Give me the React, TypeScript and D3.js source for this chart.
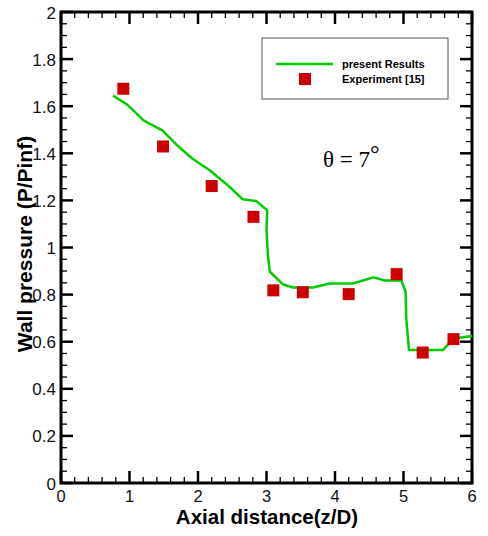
import * as d3 from "d3";
import { useEffect, useRef } from "react";

// present Results (CFD line)
const simX = [0.76, 0.97, 1.21, 1.48, 1.7, 1.92, 2.17, 2.46, 2.65, 2.85, 3.01, 3.0, 3.02, 3.05, 3.24, 3.39, 3.68, 3.92, 4.26, 4.56, 4.73, 4.97, 5.03, 5.04, 5.08, 5.58, 5.73, 6.0];
const simY = [1.645, 1.606, 1.539, 1.497, 1.433, 1.377, 1.328, 1.258, 1.205, 1.197, 1.158, 1.07, 0.967, 0.897, 0.843, 0.83, 0.83, 0.847, 0.847, 0.873, 0.86, 0.86, 0.812, 0.7, 0.565, 0.565, 0.614, 0.624];

// Experiment [15]
const expX = [0.91, 1.49, 2.2, 2.81, 3.1, 3.53, 4.2, 4.9, 5.28, 5.73];
const expY = [1.674, 1.429, 1.261, 1.13, 0.818, 0.81, 0.802, 0.887, 0.554, 0.611];

const xTicks = [0, 1, 2, 3, 4, 5, 6];
const yTicks = [0, 0.2, 0.4, 0.6, 0.8, 1, 1.2, 1.4, 1.6, 1.8, 2];

export default function App() {
  const svgRef = useRef<SVGSVGElement | null>(null);

  useEffect(() => {
    if (!svgRef.current) return;
    const svg = d3.select(svgRef.current);
    svg.selectAll("*").remove();

    const width = 488;
    const height = 536;
    const margin = { top: 12, right: 16, bottom: 53, left: 61 };
    const x0 = margin.left;
    const x1 = width - margin.right;
    const y0 = height - margin.bottom;
    const y1 = margin.top;

    const x = d3.scaleLinear().domain([0, 6]).range([x0, x1]);
    const y = d3.scaleLinear().domain([0, 2]).range([y0, y1]);

    const font = "Arial, 'Liberation Sans', Helvetica, sans-serif";
    const majorLen = 12;
    const minorLen = 6;

    const xMinor = d3.range(0, 6.0001, 0.2).filter((v) => Math.abs(v - Math.round(v)) > 1e-6);
    const yMinor = d3.range(0, 2.0001, 0.05).filter((v) => Math.abs(v * 5 - Math.round(v * 5)) > 1e-6);

    const ticks = svg.append("g").attr("stroke", "#000");
    // bottom & top x ticks
    [
      { base: y0, dir: -1 },
      { base: y1, dir: 1 },
    ].forEach(({ base, dir }) => {
      ticks
        .selectAll(null)
        .data(xTicks)
        .join("line")
        .attr("x1", (d) => x(d))
        .attr("x2", (d) => x(d))
        .attr("y1", base)
        .attr("y2", base + dir * majorLen)
        .attr("stroke-width", 2.5);
      ticks
        .selectAll(null)
        .data(xMinor)
        .join("line")
        .attr("x1", (d) => x(d))
        .attr("x2", (d) => x(d))
        .attr("y1", base)
        .attr("y2", base + dir * minorLen)
        .attr("stroke-width", 1.3);
    });
    // left & right y ticks
    [
      { base: x0, dir: 1 },
      { base: x1, dir: -1 },
    ].forEach(({ base, dir }) => {
      ticks
        .selectAll(null)
        .data(yTicks)
        .join("line")
        .attr("y1", (d) => y(d))
        .attr("y2", (d) => y(d))
        .attr("x1", base)
        .attr("x2", base + dir * majorLen)
        .attr("stroke-width", 2.5);
      ticks
        .selectAll(null)
        .data(yMinor)
        .join("line")
        .attr("y1", (d) => y(d))
        .attr("y2", (d) => y(d))
        .attr("x1", base)
        .attr("x2", base + dir * minorLen)
        .attr("stroke-width", 1.3);
    });

    // frame
    svg
      .append("rect")
      .attr("x", x0)
      .attr("y", y1)
      .attr("width", x1 - x0)
      .attr("height", y0 - y1)
      .attr("fill", "none")
      .attr("stroke", "#000")
      .attr("stroke-width", 3);

    // tick labels
    svg
      .append("g")
      .selectAll("text")
      .data(xTicks)
      .join("text")
      .attr("x", (d) => x(d))
      .attr("y", y0 + 19)
      .attr("text-anchor", "middle")
      .attr("font-family", font)
      .attr("font-size", 16.5)
      .attr("fill", "#111")
      .text((d) => d3.format("")(d));

    svg
      .append("g")
      .selectAll("text")
      .data(yTicks)
      .join("text")
      .attr("x", x0 - 5)
      .attr("y", (d) => y(d) + 6.5)
      .attr("text-anchor", "end")
      .attr("font-family", font)
      .attr("font-size", 17)
      .attr("fill", "#111")
      .text((d) => d3.format("")(d));

    // axis titles
    svg
      .append("text")
      .attr("x", 267)
      .attr("y", 524)
      .attr("text-anchor", "middle")
      .attr("font-family", font)
      .attr("font-weight", "bold")
      .attr("font-size", 20.5)
      .text("Axial distance(z/D)");

    svg
      .append("text")
      .attr("transform", `translate(32,244) rotate(-90)`)
      .attr("text-anchor", "middle")
      .attr("font-family", font)
      .attr("font-weight", "bold")
      .attr("font-size", 21)
      .text("Wall pressure (P/Pinf)");

    // simulation line
    const pts: [number, number][] = simX.map((v, i) => [v, simY[i]]);
    const line = d3
      .line<[number, number]>()
      .x((d) => x(d[0]))
      .y((d) => y(d[1]));
    svg
      .append("path")
      .datum(pts)
      .attr("d", line)
      .attr("fill", "none")
      .attr("stroke", "#00cc00")
      .attr("stroke-width", 2.5)
      .attr("stroke-linejoin", "round");

    // experiment squares
    const sq = 12;
    svg
      .append("g")
      .selectAll("rect")
      .data(expX.map((v, i) => [v, expY[i]]))
      .join("rect")
      .attr("x", (d) => x(d[0]) - sq / 2)
      .attr("y", (d) => y(d[1]) - sq / 2)
      .attr("width", sq)
      .attr("height", sq)
      .attr("fill", "#cc0000");

    // legend
    const lg = svg.append("g");
    lg.append("rect")
      .attr("x", 262)
      .attr("y", 38)
      .attr("width", 186)
      .attr("height", 61)
      .attr("fill", "#fff")
      .attr("stroke", "#555")
      .attr("stroke-width", 1);
    lg.append("line")
      .attr("x1", 276)
      .attr("x2", 333)
      .attr("y1", 64)
      .attr("y2", 64)
      .attr("stroke", "#00cc00")
      .attr("stroke-width", 2.5);
    lg.append("rect")
      .attr("x", 299)
      .attr("y", 73)
      .attr("width", 12)
      .attr("height", 12)
      .attr("fill", "#cc0000");
    lg.append("text")
      .attr("x", 342)
      .attr("y", 68)
      .attr("font-family", font)
      .attr("font-weight", "bold")
      .attr("font-size", 11)
      .text("present Results");
    lg.append("text")
      .attr("x", 342)
      .attr("y", 83)
      .attr("font-family", font)
      .attr("font-weight", "bold")
      .attr("font-size", 11)
      .text("Experiment [15]");

    // annotation
    const ann = svg
      .append("text")
      .attr("x", 323)
      .attr("y", 167)
      .attr("font-family", "'Liberation Serif', 'DejaVu Serif', serif")
      .attr("font-size", 23);
    ann.append("tspan").text("θ = 7");
    ann.append("tspan").attr("dy", -5).attr("font-size", 24).text("°");
  }, []);

  return (
    <svg
      ref={svgRef}
      width={488}
      height={536}
      style={{ position: "absolute", left: 0, top: 0, background: "#fff" }}
    />
  );
}
